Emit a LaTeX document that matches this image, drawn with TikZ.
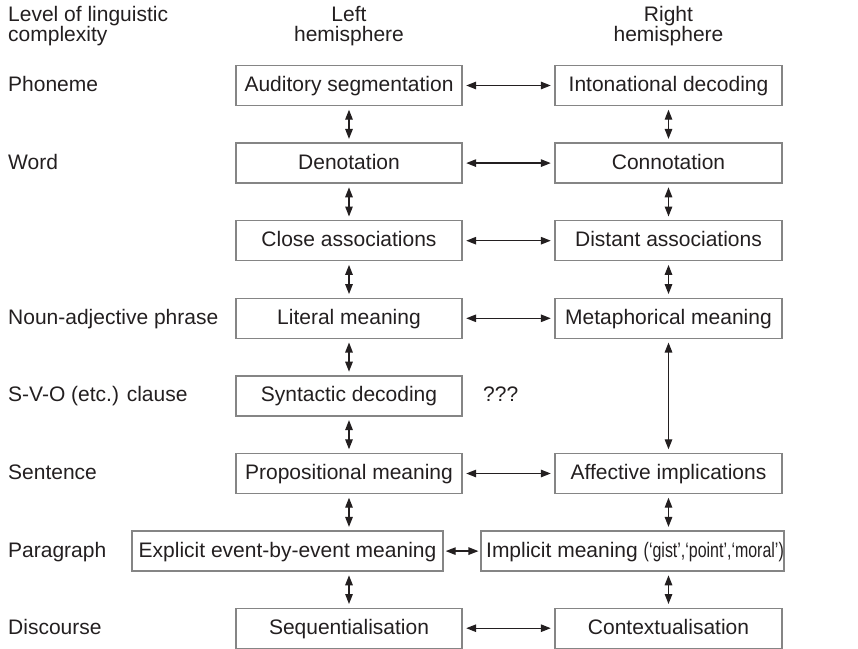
\documentclass[tikz,border=0pt]{standalone}
\usepackage{fontspec}
\setmainfont{Liberation Sans}
\usetikzlibrary{arrows.meta}
\definecolor{ink}{HTML}{231F20}
\definecolor{frame}{HTML}{858585}
\begin{document}
\begin{tikzpicture}[x=1pt,y=-1pt,
  txt/.style={text=ink, font=\fontsize{21}{20.5}\selectfont, inner sep=0pt},
  box/.style={txt, draw=frame, line width=1.4pt, minimum height=40pt, text height=16pt, text depth=4pt},
  lbox/.style={box, minimum width=226pt},
  rbox/.style={box, minimum width=227pt},
  lbl/.style={txt, anchor=base west},
  head/.style={txt, align=center, anchor=north},
  tip/.style={Triangle[length=10pt,width=7.5pt]},
  link/.style={draw=ink, line width=1.3pt, {Triangle[length=10pt,width=7.5pt]}-{Triangle[length=10pt,width=7.5pt]}, shorten >=3.5pt, shorten <=3.5pt}]
\useasboundingbox (0,0) rectangle (858,648);

% headings
\node[txt, align=left, anchor=north west] (hl) at (8,6) {Level of linguistic\\complexity};
\node[head] (hL) at (349,6) {Left\\hemisphere};
\node[head] (hR) at (668.5,6) {Right\\hemisphere};

% level labels
\node[lbl] (l1) at (8,91.5) {Phoneme};
\node[lbl] (l2) at (8,169.1) {Word};
\node[lbl] (l4) at (8,324.3) {Noun-adjective phrase};
\node[lbl] (l5) at (8,401.9) {S-V-O (etc.) clause};
\node[lbl] (l6) at (8,479.5) {Sentence};
\node[lbl] (l7) at (8,557.1) {Paragraph};
\node[lbl] (l8) at (8,634.2) {Discourse};

% left column
\node[lbox] (a1) at (349,85.5) {Auditory segmentation};
\node[lbox] (a2) at (349,163.1) {Denotation};
\node[lbox] (a3) at (349,240.7) {Close associations};
\node[lbox] (a4) at (349,318.3) {Literal meaning};
\node[lbox] (a5) at (349,395.9) {Syntactic decoding};
\node[lbox] (a6) at (349,473.5) {Propositional meaning};
\node[box, minimum width=311pt] (a7) at (287.5,551.1) {Explicit event-by-event meaning};
\node[lbox] (a8) at (349,628.2) {Sequentialisation};

% right column
\node[rbox] (b1) at (668.5,85.5) {Intonational decoding};
\node[rbox] (b2) at (668.5,163.1) {Connotation};
\node[rbox] (b3) at (668.5,240.7) {Distant associations};
\node[rbox] (b4) at (668.5,318.3) {Metaphorical meaning};
\node[lbl] (q5) at (483,401.9) {???};
\node[rbox] (b6) at (668.5,473.5) {Affective implications};
\node[box, minimum width=302pt] (b7) at (632.5,551.1) {\hspace*{5pt}Implicit meaning \scalebox{0.76}[1]{(‘gist’,‘point’,‘moral’)}};
\node[rbox] (b8) at (668.5,628.2) {Contextualisation};

% horizontal links
\foreach \i in {1,2,3,4,6,8} \draw[link] (a\i) -- (b\i);
\draw[link, shorten >=2pt, shorten <=2pt] (a7) -- (b7);

% vertical links
\foreach \i/\j in {1/2,2/3,3/4,4/5,5/6} \draw[link] (a\i) -- (a\j);
\draw[link] (a6.south) -- (a6.south |- a7.north);
\draw[link] (a8.north |- a7.south) -- (a8.north);
\foreach \i/\j in {1/2,2/3,3/4,4/6} \draw[link] (b\i) -- (b\j);
\draw[link] (b6.south) -- (b6.south |- b7.north);
\draw[link] (b8.north |- b7.south) -- (b8.north);
\end{tikzpicture}
\end{document}
